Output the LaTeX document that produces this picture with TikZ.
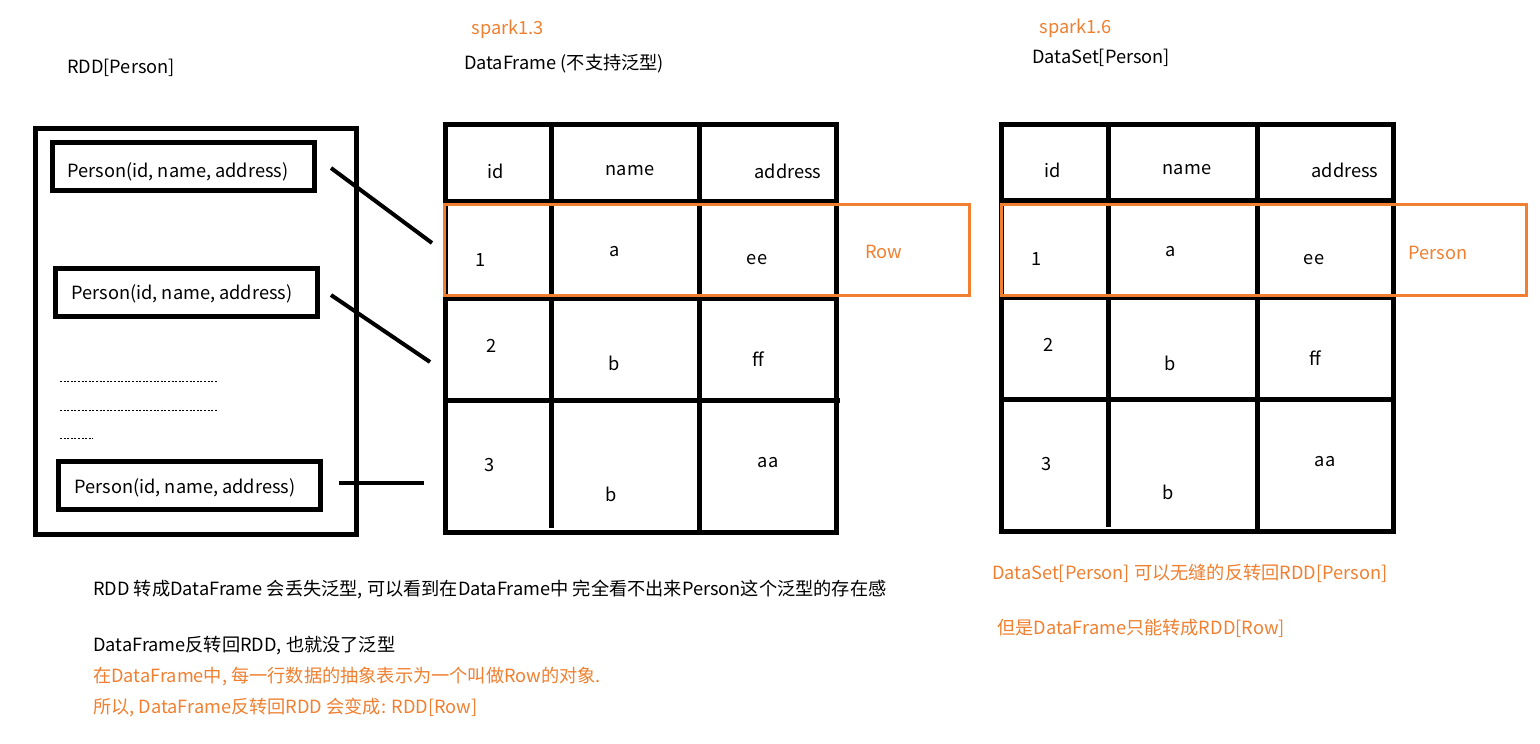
\documentclass[tikz,border=0pt]{standalone}
\usepackage{fontspec}
\setmainfont{Noto Sans CJK SC}
\definecolor{orng}{RGB}{240,128,48}
\begin{document}
\begin{tikzpicture}[x=1pt,y=-1pt,
  txt/.style={inner sep=0pt, font=\fontsize{18.2}{21}\selectfont},
  otxt/.style={txt, text=orng},
  pbox/.style={draw, line width=5pt, minimum width=262pt, minimum height=48pt, inner sep=0pt},
  frame/.style={draw, line width=5pt},
  conn/.style={line width=4pt},
  hl/.style={draw=orng, line width=3pt},
  dotline/.style={line width=0.9pt, dash pattern=on 2pt off 1.6pt}
]
\useasboundingbox[fill=white] (0,0) rectangle (1540,744);

% ---------- left: RDD[Person] ----------
\node[txt] (rddtitle) at (121,68) {RDD[Person]};
\draw[frame] (35.5,128.5) rectangle (356.5,534.5);
\node[pbox] (p1) at (183.5,166) {};
\node[txt] (p1t) at (178,172) {Person(id, name, address)};
\node[pbox] (p2) at (186,292) {};
\node[txt] (p2t) at (182,294) {Person(id, name, address)};
\node[pbox] (p3) at (189,485.5) {};
\node[txt] (p3t) at (185,488) {Person(id, name, address)};
\draw[dotline] (60,381) -- (218,381);
\draw[dotline] (60,410) -- (218,410);
\draw[dotline] (60,438) -- (93,438);

% ---------- middle: DataFrame ----------
\node[otxt] (v13) at (508,29) {spark1.3};
\node[txt] (dftitle) at (564,64) {DataFrame (不支持泛型)};
\draw[frame] (445,124) rectangle (836,532);
\draw[frame] (551,124) -- (551,528);
\draw[frame] (699,124) -- (699,532);
\draw[frame] (445,201) -- (836,201);
\draw[frame] (445,298) -- (836,298);
\draw[frame] (445,400) -- (840,400);
\node[txt] (m11) at (496,171) {id};
\node[txt] (m12) at (630,171) {name};
\node[txt] (m13) at (788,171) {address};
\node[txt] (m21) at (481,260) {1};
\node[txt] (m22) at (615,252) {a};
\node[txt] (m23) at (757,260) {ee};
\node[txt] (m31) at (492,346) {2};
\node[txt] (m32) at (614,363) {b};
\node[txt] (m33) at (758,359) {ff};
\node[txt] (m41) at (490,465) {3};
\node[txt] (m42) at (611,494) {b};
\node[txt] (m43) at (768,463) {aa};
\draw[hl] (444.5,204) rectangle (969.5,295);
\node[otxt] (rowlbl) at (884,252) {Row};

% ---------- connectors ----------
\coordinate (c1s) at (331,168);
\coordinate (c1e) at (432,243);
\coordinate (c2s) at (331,295);
\coordinate (c2e) at (430,362);
\coordinate (c3s) at (339,483);
\coordinate (c3e) at (424,483);
\draw[conn] (c1s) -- (c1e);
\draw[conn] (c2s) -- (c2e);
\draw[conn] (c3s) -- (c3e);

% ---------- right: DataSet ----------
\node[otxt] (v16) at (1076,28) {spark1.6};
\node[txt] (dstitle) at (1101,58) {DataSet[Person]};
\draw[frame] (1001,124) rectangle (1393,531);
\draw[frame] (1108,124) -- (1108,527);
\draw[frame] (1257,124) -- (1257,531);
\draw[frame] (1001,200) -- (1393,200);
\draw[frame] (1001,297) -- (1393,297);
\draw[frame] (1001,399) -- (1395,399);
\node[txt] (r11) at (1053,170) {id};
\node[txt] (r12) at (1187,170) {name};
\node[txt] (r13) at (1345,170) {address};
\node[txt] (r21) at (1037,259) {1};
\node[txt] (r22) at (1171,252) {a};
\node[txt] (r23) at (1314,260) {ee};
\node[txt] (r31) at (1049,345) {2};
\node[txt] (r32) at (1170,363) {b};
\node[txt] (r33) at (1315,358) {ff};
\node[txt] (r41) at (1047,464) {3};
\node[txt] (r42) at (1168,492) {b};
\node[txt] (r43) at (1325,462) {aa};
\draw[hl] (1001,204) rectangle (1526,295);
\node[otxt] (perslbl) at (1438,253) {Person};

% ---------- notes ----------
\node[txt, anchor=west] (n1) at (93,589) {RDD 转成DataFrame 会丢失泛型, 可以看到在DataFrame中 完全看不出来Person这个泛型的存在感};
\node[txt, anchor=west] (n2) at (93,646) {DataFrame反转回RDD, 也就没了泛型};
\node[otxt, anchor=west] (n3) at (93,677) {在DataFrame中, 每一行数据的抽象表示为一个叫做Row的对象.};
\node[otxt, anchor=west] (n4) at (93,707) {所以, DataFrame反转回RDD 会变成: RDD[Row]};
\node[otxt, anchor=west] (n5) at (992,573) {DataSet[Person] 可以无缝的反转回RDD[Person]};
\node[otxt, anchor=west] (n6) at (997,628) {但是DataFrame只能转成RDD[Row]};
\end{tikzpicture}
\end{document}
